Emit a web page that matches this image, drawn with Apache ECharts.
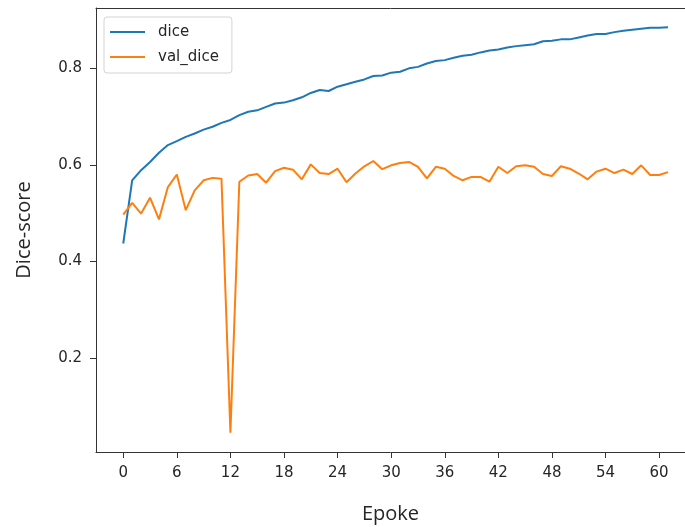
<!DOCTYPE html>
<html>
<head>
<meta charset="utf-8">
<script src="https://cdn.jsdelivr.net/npm/echarts@6/dist/echarts.min.js"></script>
<style>
html,body{margin:0;padding:0;background:#fff;}
#chart{width:685px;height:527px;}
</style>
</head>
<body>
<div id="chart"></div>
<script>
const epochs = Array.from({length: 62}, (_, i) => i);
const dice = [0.437,0.568,0.589,0.606,0.625,0.641,0.649,0.658,0.665,0.673,0.679,0.687,0.693,0.703,
  0.710,0.713,0.720,0.727,0.729,0.734,0.740,0.749,0.755,0.753,0.762,0.767,0.772,0.777,0.784,0.785,0.791,
  0.793,0.800,0.803,0.810,0.815,0.817,0.822,0.826,0.828,0.833,0.837,0.839,0.843,0.846,0.848,0.850,0.856,
  0.857,0.860,0.860,0.864,0.868,0.871,0.871,0.875,0.878,0.880,0.882,0.884,0.884,0.885];
const valDice = [0.497,0.521,0.499,0.532,0.487,0.554,0.580,0.506,0.547,0.568,0.573,0.571,0.045,0.565,
  0.578,0.581,0.563,0.587,0.594,0.590,0.570,0.601,0.583,0.581,0.592,0.564,0.582,0.597,0.608,0.591,0.599,
  0.604,0.606,0.596,0.572,0.596,0.592,0.577,0.568,0.575,0.575,0.565,0.596,0.583,0.597,0.599,0.596,0.581,
  0.577,0.597,0.592,0.582,0.570,0.586,0.592,0.583,0.590,0.581,0.599,0.579,0.579,0.585];
const xTicks = [0,6,12,18,24,30,36,42,48,54,60];
const yTicks = [0.2,0.4,0.6,0.8];

const chart = echarts.init(document.getElementById('chart'), null, {renderer:'canvas'});
const tickFont = {fontFamily:'DejaVu Sans', fontSize:15, color:'#262626'};
chart.setOption({
  animation:false,
  backgroundColor:'#fff',
  grid:{left:96, top:8, right:0, height:444, outerBoundsMode:'none', containLabel:false},
  legend:{
    left:104, top:17, orient:'vertical',
    icon:'rect', itemWidth:35, itemHeight:2, itemGap:9,
    padding:[7,13,8,6],
    backgroundColor:'#fff', borderColor:'#d4d4d4', borderWidth:1, borderRadius:3,
    textStyle:{fontFamily:'DejaVu Sans', fontSize:15, color:'#262626', padding:[0,0,0,8], lineHeight:16},
    data:['dice','val_dice']
  },
  xAxis:[{
    type:'value', min:-3.05, max:62.9,
    name:'Epoke', nameLocation:'middle', nameGap:52,
    nameTextStyle:{fontFamily:'Open Sans', fontSize:20, color:'#262626'},
    axisLine:{show:true, onZero:false, lineStyle:{color:'#333', width:1}},
    axisTick:{show:true, length:6, lineStyle:{color:'#333'}, customValues:xTicks},
    axisLabel:Object.assign({margin:14, customValues:xTicks}, tickFont),
    splitLine:{show:false}
  },{
    type:'value', position:'top', min:-3.05, max:62.9,
    axisLine:{show:true, onZero:false, lineStyle:{color:'#333', width:1}},
    axisTick:{show:false}, axisLabel:{show:false}, splitLine:{show:false}
  }],
  yAxis:{
    type:'value', min:0.005, max:0.925,
    name:'Dice-score', nameLocation:'middle', nameGap:62,
    nameTextStyle:{fontFamily:'Open Sans', fontSize:20, color:'#262626'},
    axisLine:{show:true, onZero:false, lineStyle:{color:'#333', width:1}},
    axisTick:{show:true, length:6, lineStyle:{color:'#333'}, customValues:yTicks},
    axisLabel:Object.assign({margin:14, customValues:yTicks, formatter:v=>v.toFixed(1)}, tickFont),
    splitLine:{show:false}
  },
  series:[
    {name:'dice', type:'line', symbol:'none', data:epochs.map((e,i)=>[e,dice[i]]),
     lineStyle:{color:'#1f77b4', width:2}, itemStyle:{color:'#1f77b4'}},
    {name:'val_dice', type:'line', symbol:'none', data:epochs.map((e,i)=>[e,valDice[i]]),
     lineStyle:{color:'#ff7f0e', width:2}, itemStyle:{color:'#ff7f0e'}}
  ]
});
</script>
</body>
</html>
